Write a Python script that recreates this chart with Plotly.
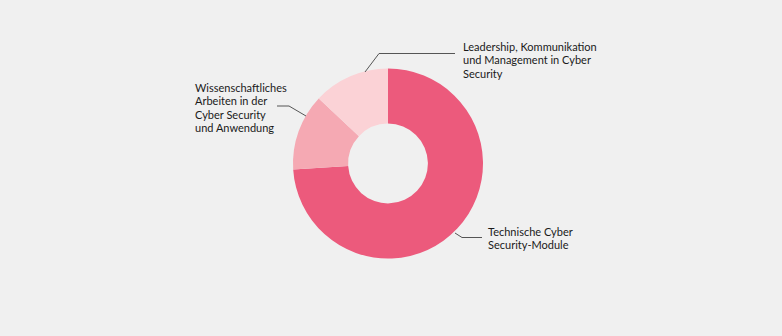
import plotly.graph_objects as go

W, H = 782, 336

categories = [
    "Technische Cyber Security-Module",
    "Wissenschaftliches Arbeiten in der Cyber Security und Anwendung",
    "Leadership, Kommunikation und Management in Cyber Security",
]
values = [74, 13, 13]
colors = ["#EC5A7C", "#F5A9B3", "#FBD2D6"]

label_lines = [
    ["Technische Cyber", "Security-Module"],
    ["Wissenschaftliches", "Arbeiten in der", "Cyber Security", "und Anwendung"],
    ["Leadership, Kommunikation", "und Management in Cyber", "Security"],
]

# layout (pixels): label anchor (left x, first baseline y), line spacing, leader polyline
label_pos = [(487, 235), (194, 91), (462, 50)]
line_gap = 13.4
leaders = [
    [(455, 233), (462, 237.5), (482, 237.5)],
    [(306, 116), (289, 106), (277, 106)],
    [(365, 72), (379, 53.5), (455, 53.5)],
]

cx, cy, r = 388, 163.5, 95


def px(x):
    return x / W


def py(y):
    return 1 - y / H


fig = go.Figure(
    go.Pie(
        labels=categories,
        values=values,
        marker=dict(colors=colors, line=dict(width=0)),
        hole=0.42,
        sort=False,
        direction="clockwise",
        rotation=0,
        textinfo="none",
        hoverinfo="label+percent",
        domain=dict(x=[px(cx - r), px(cx + r)], y=[py(cy + r), py(cy - r)]),
        showlegend=False,
    )
)

annotations = []
for (lx, ly), lines in zip(label_pos, label_lines):
    for i, t in enumerate(lines):
        annotations.append(
            dict(
                x=px(lx), y=py(ly + i * line_gap - 3.8),
                xref="paper", yref="paper",
                text=t, showarrow=False,
                xanchor="left", yanchor="middle",
                borderpad=0,
                font=dict(family="Lato, Open Sans, sans-serif", size=11, color="#1a1a1a"),
            )
        )

shapes = []
for pts in leaders:
    path = "M " + " L ".join(f"{px(x)},{py(y)}" for x, y in pts)
    shapes.append(
        dict(type="path", xref="paper", yref="paper", path=path,
             line=dict(color="#555555", width=1))
    )

fig.update_layout(
    width=W, height=H,
    margin=dict(l=0, r=0, t=0, b=0),
    paper_bgcolor="#F0F0F0",
    plot_bgcolor="#F0F0F0",
    annotations=annotations,
    shapes=shapes,
)

fig.write_html("out.html")
